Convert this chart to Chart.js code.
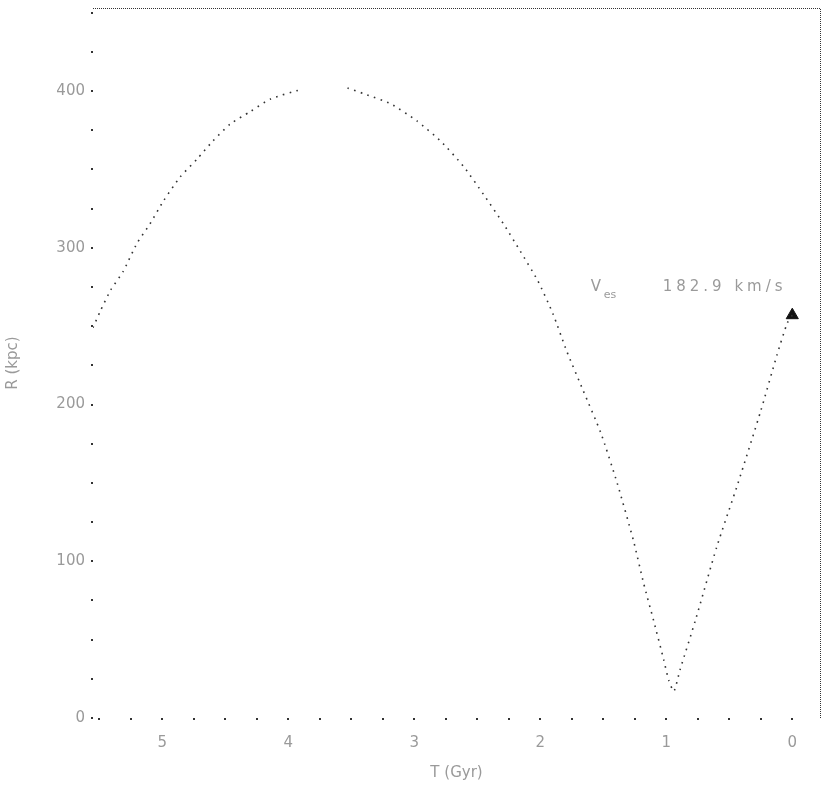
<!DOCTYPE html>
<html>
<head>
<meta charset="utf-8">
<script src="https://cdn.jsdelivr.net/npm/chart.js@4.4.0/dist/chart.umd.min.js"></script>
<style>
  html, body { margin: 0; padding: 0; background: #fff; }
  #wrap { width: 830px; height: 786px; }
</style>
</head>
<body>
<div id="wrap"><canvas id="orbit" width="830" height="786"></canvas></div>
<script>
// orbita: tempo (Gyr, passado) x raio galactocentrico (kpc)
const tGyr = [5.55, 5.49, 5.41, 5.31, 5.20, 5.10, 4.99, 4.86, 4.72, 4.60, 4.46, 4.30, 4.14, 3.90,
              3.72,
              3.53, 3.39, 3.19, 2.98, 2.79, 2.61, 2.45, 2.29, 2.16, 2.02, 1.90, 1.79, 1.66, 1.52,
              1.39, 1.26, 1.18, 1.10, 1.02, 0.98, 0.94, 0.89, 0.77, 0.60, 0.43, 0.25, 0.12, 0.04, 0.0];
const rKpc = [249, 260, 273, 285, 303, 315, 330, 345, 357, 368, 379, 387, 395, 401,
              null,
              402, 398, 392, 381, 368, 352, 334, 315, 298, 279, 258, 234, 209, 182,
              150, 113, 86, 62, 37, 24, 17, 31, 62, 109, 150, 196, 232, 252, 257];

// posicao atual (triangulo)
const nowT = [0.0];
const nowR = [257];

// rotulo da velocidade de escape
const vesText = ["V", "es", "182.9 km/s"];
const vesPos = [1.60, 275];   // T, R

const xTicksMajor = [5, 4, 3, 2, 1, 0];
const yTicksMajor = [0, 100, 200, 300, 400];

const ink = "#333";
const labelColor = "#9a9a9a";
const labelFont = { family: "DejaVu Sans", size: 15 };

const isMult = (v, s) => Math.abs(v / s - Math.round(v / s)) < 1e-6;

// moldura pontilhada em cima e na direita + texto V_es
const framePlugin = {
  id: "frame",
  afterDraw(chart) {
    const { ctx, chartArea: a, scales } = chart;
    ctx.save();
    ctx.strokeStyle = ink;
    ctx.lineWidth = 1;
    ctx.setLineDash([1, 1]);
    ctx.beginPath();
    ctx.moveTo(a.left, a.top + 0.5);
    ctx.lineTo(a.right + 0.5, a.top + 0.5);
    ctx.lineTo(a.right + 0.5, a.bottom);
    ctx.stroke();
    ctx.setLineDash([]);

    const px = scales.x.getPixelForValue(vesPos[0]);
    const py = scales.y.getPixelForValue(vesPos[1]);
    ctx.fillStyle = labelColor;
    ctx.textBaseline = "middle";
    ctx.textAlign = "left";
    ctx.font = "15px 'DejaVu Sans'";
    ctx.fillText(vesText[0], px, py);
    ctx.font = "11px 'DejaVu Sans'";
    ctx.fillText(vesText[1], px + 13, py + 8);
    ctx.font = "15px 'DejaVu Sans'";
    ctx.letterSpacing = "4px";
    ctx.fillText(vesText[2], px + 72, py);
    ctx.restore();
  }
};

new Chart(document.getElementById("orbit").getContext("2d"), {
  type: "line",
  data: {
    datasets: [
      {
        data: tGyr.map((t, i) => ({ x: t, y: rKpc[i] })),
        borderColor: ink,
        borderWidth: 1.6,
        borderDash: [1.6, 5.4],
        pointRadius: 0,
        spanGaps: false,
        tension: 0.2
      },
      {
        data: nowT.map((t, i) => ({ x: t, y: nowR[i] })),
        showLine: false,
        pointStyle: "triangle",
        pointRadius: 7,
        backgroundColor: "#111",
        borderColor: "#111",
        borderWidth: 1
      }
    ]
  },
  plugins: [framePlugin],
  options: {
    responsive: false,
    animation: false,
    layout: { padding: { top: 7, right: 10, left: 0, bottom: 0 } },
    plugins: { legend: { display: false }, tooltip: { enabled: false } },
    scales: {
      x: {
        type: "linear",
        reverse: true,
        min: -0.22,
        max: 5.55,
        afterBuildTicks: s => { s.ticks = s.ticks.filter(t => isMult(t.value, 0.25)); },
        afterFit: s => { s.height = 68; },
        border: { display: false },
        grid: { drawOnChartArea: false, drawTicks: true, tickLength: 2, color: ink, lineWidth: 2 },
        ticks: {
          stepSize: 0.25,
          includeBounds: false,
          autoSkip: false,
          maxRotation: 0,
          color: labelColor,
          font: labelFont,
          padding: 14,
          callback: v => xTicksMajor.includes(Math.round(v * 100) / 100) ? String(Math.round(v)) : ""
        },
        title: { display: true, text: "T (Gyr)", color: labelColor, font: labelFont, padding: { top: 4 } }
      },
      y: {
        min: 0,
        max: 453,
        afterBuildTicks: s => { s.ticks = s.ticks.filter(t => isMult(t.value, 25)); },
        afterFit: s => { s.width = 93; s.paddingTop = 0; },
        border: { display: false },
        grid: { drawOnChartArea: false, drawTicks: true, tickLength: 2, color: ink, lineWidth: 2 },
        ticks: {
          stepSize: 25,
          includeBounds: false,
          autoSkip: false,
          color: labelColor,
          font: labelFont,
          padding: 6,
          callback: v => yTicksMajor.includes(v) ? String(v) : ""
        },
        title: { display: true, text: "R (kpc)", color: labelColor, font: labelFont, padding: { top: 4, bottom: 0 } }
      }
    }
  }
});
</script>
</body>
</html>
